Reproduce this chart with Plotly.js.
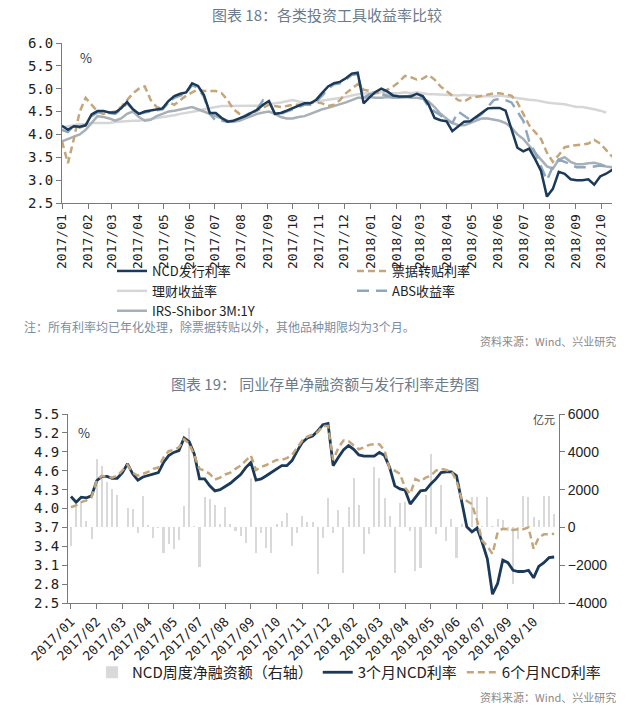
<!DOCTYPE html>
<html>
<head>
<meta charset="utf-8">
<script src="https://cdn.plot.ly/plotly-3.0.1.min.js"></script>
<style>html,body{margin:0;padding:0;background:#fff;}#chart{width:640px;height:723px;}</style>
</head>
<body>
<div id="chart"></div>
<script>
// ---------- Chart 18 data (weekly, starting 2017-01-01) ----------
const topStart = '2017-01-01';
const topWeeks = 95;
// NCD issuance rate (3M) — shared with chart 19
const ncd3m = [4.19,4.10,4.18,4.17,4.20,4.44,4.51,4.51,4.48,4.48,
  4.57,4.71,4.55,4.45,4.50,4.52,4.55,4.57,4.73,4.84,
  4.89,4.92,5.12,5.06,4.86,4.47,4.47,4.36,4.28,4.30,
  4.35,4.40,4.47,4.54,4.65,4.73,4.45,4.47,4.52,4.57,
  4.63,4.68,4.68,4.76,4.91,5.05,5.12,5.15,5.23,5.33,
  5.35,4.68,4.81,4.93,5.00,4.94,4.85,4.83,4.83,4.83,
  4.89,4.84,4.65,4.36,4.31,4.29,4.07,4.17,4.28,4.29,
  4.39,4.47,4.57,4.58,4.58,4.52,4.12,3.71,3.63,3.69,
  3.46,3.20,2.64,2.81,3.18,3.14,3.02,3.00,3.00,3.02,
  2.90,3.08,3.14,3.22,3.23];
const billRate = [3.85,3.37,3.90,4.50,4.80,4.65,4.50,4.45,4.48,4.50,
  4.60,4.75,4.90,5.00,5.05,4.75,4.60,4.55,4.70,4.65,
  4.75,4.85,4.92,4.98,4.95,4.95,4.95,4.90,4.75,4.55,
  4.45,4.40,4.45,4.52,4.58,4.65,4.62,4.60,4.62,4.65,
  4.65,4.66,4.68,4.70,4.68,4.62,4.65,4.75,4.90,5.00,
  5.10,4.98,4.95,4.90,4.92,4.98,5.05,5.15,5.28,5.25,
  5.20,5.22,5.30,5.20,5.05,4.95,4.85,4.75,4.72,4.80,
  4.82,4.85,4.88,4.90,4.90,4.88,4.85,4.70,4.45,4.20,
  4.05,3.90,3.60,3.40,3.55,3.72,3.75,3.76,3.78,3.80,
  3.88,3.80,3.65,3.52,3.50];
const wmpYield = [4.15,4.18,4.20,4.22,4.22,4.25,4.25,4.25,4.25,4.27,
  4.28,4.30,4.30,4.30,4.32,4.33,4.35,4.38,4.40,4.42,
  4.45,4.47,4.50,4.52,4.55,4.58,4.60,4.62,4.62,4.63,
  4.62,4.62,4.63,4.63,4.65,4.66,4.68,4.70,4.73,4.75,
  4.72,4.70,4.70,4.72,4.73,4.75,4.77,4.80,4.82,4.85,
  4.88,4.90,4.90,4.92,4.92,4.90,4.90,4.90,4.92,4.90,
  4.92,4.90,4.88,4.88,4.87,4.87,4.85,4.85,4.87,4.85,
  4.85,4.83,4.84,4.83,4.85,4.83,4.82,4.80,4.78,4.76,
  4.75,4.72,4.70,4.68,4.67,4.66,4.63,4.60,4.60,4.58,
  4.55,4.52,4.48,null,null];
const irsShibor = [3.85,3.90,3.95,4.00,4.10,4.25,4.40,4.38,4.35,4.30,
  4.35,4.45,4.50,4.38,4.30,4.32,4.40,4.45,4.50,4.52,
  4.55,4.58,4.60,4.55,4.50,4.45,4.40,4.35,4.30,4.28,
  4.30,4.35,4.40,4.45,4.48,4.50,4.45,4.38,4.35,4.35,
  4.38,4.40,4.45,4.50,4.55,4.58,4.62,4.65,4.70,4.75,
  4.80,4.80,4.82,4.80,4.80,4.82,4.80,4.80,4.82,4.80,
  4.80,4.78,4.72,4.60,4.45,4.35,4.25,4.20,4.20,4.25,
  4.30,4.35,4.35,4.32,4.30,4.25,4.15,4.00,3.90,3.75,
  3.60,3.45,3.30,3.25,3.45,3.50,3.40,3.35,3.35,3.37,
  3.38,3.35,3.30,3.28,3.28];
const absYield = [4.10,4.05,4.20,4.15,4.20,4.40,4.48,4.50,4.47,4.45,
  4.55,4.68,4.55,4.45,4.48,4.50,4.52,4.55,4.70,4.80,
  4.85,4.90,5.08,5.02,4.82,4.45,4.30,4.30,4.28,4.30,
  4.35,4.42,4.48,4.55,4.75,4.72,4.45,4.45,4.50,4.55,
  4.60,4.65,4.65,4.72,4.85,5.00,5.10,5.12,5.20,5.30,
  5.32,4.80,4.88,4.90,4.88,4.85,4.82,4.82,4.82,4.85,
  4.85,4.80,4.60,4.50,4.42,4.30,4.25,4.50,4.40,4.32,
  4.35,4.45,4.60,4.75,4.78,4.75,4.70,4.50,4.30,3.85,
  3.60,3.30,3.00,3.30,3.45,3.40,3.35,3.28,3.28,3.28,
  3.30,3.32,3.30,3.28,3.30];

// ---------- Chart 19 data (weekly categories) ----------
const ncdNetFinancing = [-1000,1250,1350,320,-600,3600,3250,2400,2050,1700,
  30,1050,1000,-270,1650,120,-550,-20,-1350,-900,
  -1150,-650,1130,5250,90,-2100,1600,1500,1200,200,
  1070,180,-180,-450,-850,2600,-1380,-320,-1070,-1340,
  200,350,750,-1000,-270,600,300,300,-2450,-550,
  1570,-270,900,-2400,1070,2600,1200,-1430,-360,3180,
  2600,1570,620,-2400,1300,1340,-180,-2300,-2150,1700,
  3875,-360,2230,-720,450,-1600,180,-50,1600,1600,
  100,1600,50,450,400,-180,-3000,-630,1640,1600,
  540,400,1640,1640,700];
const ncd6m = [4.02,4.05,4.10,4.13,4.18,4.44,4.52,4.51,4.49,4.52,
  4.60,4.69,4.57,4.52,4.55,4.58,4.63,4.65,4.81,4.91,
  4.93,4.97,5.10,5.03,4.84,4.63,4.60,4.55,4.46,4.49,
  4.54,4.57,4.63,4.68,4.76,4.84,4.61,4.66,4.69,4.73,
  4.77,4.77,4.80,4.85,4.97,5.08,5.14,5.17,5.21,5.31,
  5.31,4.77,4.96,5.08,5.07,5.00,4.94,4.97,5.01,5.02,
  5.02,4.92,4.63,4.60,4.55,4.33,4.23,4.47,4.43,4.49,
  4.52,4.60,4.63,4.61,4.59,4.44,4.15,4.12,4.07,3.81,
  3.49,3.40,3.28,3.62,3.68,3.67,3.66,3.67,3.67,3.70,
  3.36,3.54,3.59,3.59,3.60];
const bottomTickLabels = ['2017/01','2017/02','2017/03','2017/04','2017/05','2017/07','2017/08','2017/09','2017/10','2017/11','2017/12','2018/02','2018/03','2018/04','2018/05','2018/06','2018/07','2018/09','2018/10'];
const bottomTickStep = 5;

// ---------- build categories ----------
const topDates = [];
{
  const d0 = new Date(topStart + 'T00:00:00Z');
  for (let j = 0; j < topWeeks; j++) {
    const d = new Date(d0.getTime() + j * 7 * 86400000);
    topDates.push(d.toISOString().slice(0, 10));
  }
}
const weekIdx = ncdNetFinancing.map((_, i) => i);
const bottomTickVals = bottomTickLabels.map((_, k) => k * bottomTickStep);

const W = 640, H = 723;
const px = x => x / W, py = y => (H - y) / H;

const CJK = '"Noto Sans CJK SC", "Noto Sans", sans-serif';
const MONO = '"DejaVu Sans Mono", monospace';
const C_NCD = '#1b3a5a', C_TAN = '#c4a67a', C_WMP = '#d6d6d6', C_IRS = '#a7afb7', C_ABS = '#8fa7bd', C_BAR = '#d9d9d9';

const traces = [
  {x: topDates, y: wmpYield, name: '理财收益率', type: 'scatter', mode: 'lines', line: {color: C_WMP, width: 2.5}, xaxis: 'x', yaxis: 'y', legend: 'legend', legendrank: 2, connectgaps: false},
  {x: topDates, y: irsShibor, name: 'IRS-Shibor 3M:1Y', type: 'scatter', mode: 'lines', line: {color: C_IRS, width: 2.5}, xaxis: 'x', yaxis: 'y', legend: 'legend', legendrank: 3},
  {x: topDates, y: billRate, name: '票据转贴利率', type: 'scatter', mode: 'lines', line: {color: C_TAN, width: 2.5, dash: '7px,4px'}, xaxis: 'x', yaxis: 'y', legend: 'legend2', legendrank: 1},
  {x: topDates, y: absYield, name: 'ABS收益率', type: 'scatter', mode: 'lines', line: {color: C_ABS, width: 2.5, dash: '12px,7px'}, xaxis: 'x', yaxis: 'y', legend: 'legend2', legendrank: 2},
  {x: topDates, y: ncd3m, name: 'NCD发行利率', type: 'scatter', mode: 'lines', line: {color: C_NCD, width: 2.5}, xaxis: 'x', yaxis: 'y', legend: 'legend', legendrank: 1},

  {x: weekIdx, y: ncdNetFinancing, name: 'NCD周度净融资额（右轴）', type: 'bar', marker: {color: C_BAR}, width: 0.4, xaxis: 'x2', yaxis: 'y2', legend: 'legend3', legendrank: 1},
  {x: weekIdx, y: ncd3m, name: '3个月NCD利率', type: 'scatter', mode: 'lines', line: {color: C_NCD, width: 2.8}, xaxis: 'x2', yaxis: 'y3', legend: 'legend3', legendrank: 2},
  {x: weekIdx, y: ncd6m, name: '6个月NCD利率', type: 'scatter', mode: 'lines', line: {color: C_TAN, width: 2.5, dash: '7px,4px'}, xaxis: 'x2', yaxis: 'y3', legend: 'legend3', legendrank: 3}
];

const axisCommon = {showline: true, linecolor: '#7a7a7a', linewidth: 1, ticks: 'outside', ticklen: 5, tickcolor: '#7a7a7a', showgrid: false, zeroline: false, fixedrange: true};

const layout = {
  width: W, height: H,
  margin: {l: 0, r: 0, t: 0, b: 0},
  paper_bgcolor: '#ffffff', plot_bgcolor: 'rgba(0,0,0,0)',
  bargap: 0,
  xaxis: Object.assign({}, axisCommon, {
    domain: [px(62), px(612)], anchor: 'y', type: 'date',
    range: ['2017-01-01', '2018-10-14'], dtick: 'M1', tick0: '2017-01-01', tickformat: '%Y/%m',
    tickangle: -90, tickfont: {family: MONO, size: 13, color: '#222'}
  }),
  yaxis: Object.assign({}, axisCommon, {
    domain: [py(203), py(43)], anchor: 'x', range: [2.5, 6.0], dtick: 0.5, tick0: 2.5, tickformat: '.1f',
    tickfont: {family: MONO, size: 14, color: '#222'}
  }),
  xaxis2: Object.assign({}, axisCommon, {
    domain: [px(68), px(559)], anchor: 'y2', type: 'linear', range: [-0.58, 94.94],
    tickmode: 'array', tickvals: bottomTickVals, ticktext: bottomTickLabels, tickangle: -45,
    tickfont: {family: MONO, size: 13, color: '#222'}
  }),
  yaxis2: Object.assign({}, axisCommon, {
    domain: [py(603), py(414)], anchor: 'x2', side: 'right', range: [-4000, 6000], dtick: 2000, tick0: -4000,
    tickfont: {family: '"Liberation Sans", Arial, sans-serif', size: 14, color: '#222'}
  }),
  yaxis3: Object.assign({}, axisCommon, {
    overlaying: 'y2', anchor: 'x2', side: 'left', range: [2.5, 5.5], dtick: 0.3, tick0: 2.5, tickformat: '.1f',
    tickfont: {family: MONO, size: 14, color: '#222'}
  }),
  legend: {x: px(112), y: py(256), xanchor: 'left', yanchor: 'top', orientation: 'v', bgcolor: 'rgba(0,0,0,0)',
    font: {family: CJK, size: 13, color: '#222'}, traceorder: 'normal', itemwidth: 30, tracegroupgap: 0},
  legend2: {x: px(352), y: py(256), xanchor: 'left', yanchor: 'top', orientation: 'v', bgcolor: 'rgba(0,0,0,0)',
    font: {family: CJK, size: 13, color: '#222'}, traceorder: 'normal', itemwidth: 30, tracegroupgap: 0},
  legend3: {x: px(92), y: py(656), xanchor: 'left', yanchor: 'top', orientation: 'h', bgcolor: 'rgba(0,0,0,0)',
    font: {family: CJK, size: 15, color: '#222'}, traceorder: 'normal', itemwidth: 30},
  annotations: [
    {text: '图表 18：各类投资工具收益率比较', x: px(327), y: py(14), xref: 'paper', yref: 'paper', xanchor: 'center', yanchor: 'middle', showarrow: false, font: {family: CJK, size: 15, color: '#6b7b8c'}},
    {text: '%', x: px(86), y: py(57), xref: 'paper', yref: 'paper', xanchor: 'center', yanchor: 'middle', showarrow: false, font: {family: CJK, size: 13, color: '#333'}},
    {text: '注：所有利率均已年化处理，除票据转贴以外，其他品种期限均为3个月。', x: px(22), y: py(327), xref: 'paper', yref: 'paper', xanchor: 'left', yanchor: 'middle', showarrow: false, font: {family: CJK, size: 12, color: '#7b8d9f'}},
    {text: '资料来源：Wind、兴业研究', x: px(618), y: py(341), xref: 'paper', yref: 'paper', xanchor: 'right', yanchor: 'middle', showarrow: false, font: {family: CJK, size: 11, color: '#8a8a8a'}},
    {text: '图表 19： 同业存单净融资额与发行利率走势图', x: px(325), y: py(383), xref: 'paper', yref: 'paper', xanchor: 'center', yanchor: 'middle', showarrow: false, font: {family: CJK, size: 15, color: '#6b7b8c'}},
    {text: '%', x: px(84), y: py(432), xref: 'paper', yref: 'paper', xanchor: 'center', yanchor: 'middle', showarrow: false, font: {family: CJK, size: 13, color: '#333'}},
    {text: '亿元', x: px(557), y: py(419), xref: 'paper', yref: 'paper', xanchor: 'right', yanchor: 'middle', showarrow: false, font: {family: CJK, size: 11, color: '#444'}},
    {text: '资料来源：Wind、兴业研究', x: px(618), y: py(697), xref: 'paper', yref: 'paper', xanchor: 'right', yanchor: 'middle', showarrow: false, font: {family: CJK, size: 11, color: '#8a8a8a'}}
  ]
};

Plotly.newPlot('chart', traces, layout, {displayModeBar: false, staticPlot: true});
</script>
</body>
</html>
